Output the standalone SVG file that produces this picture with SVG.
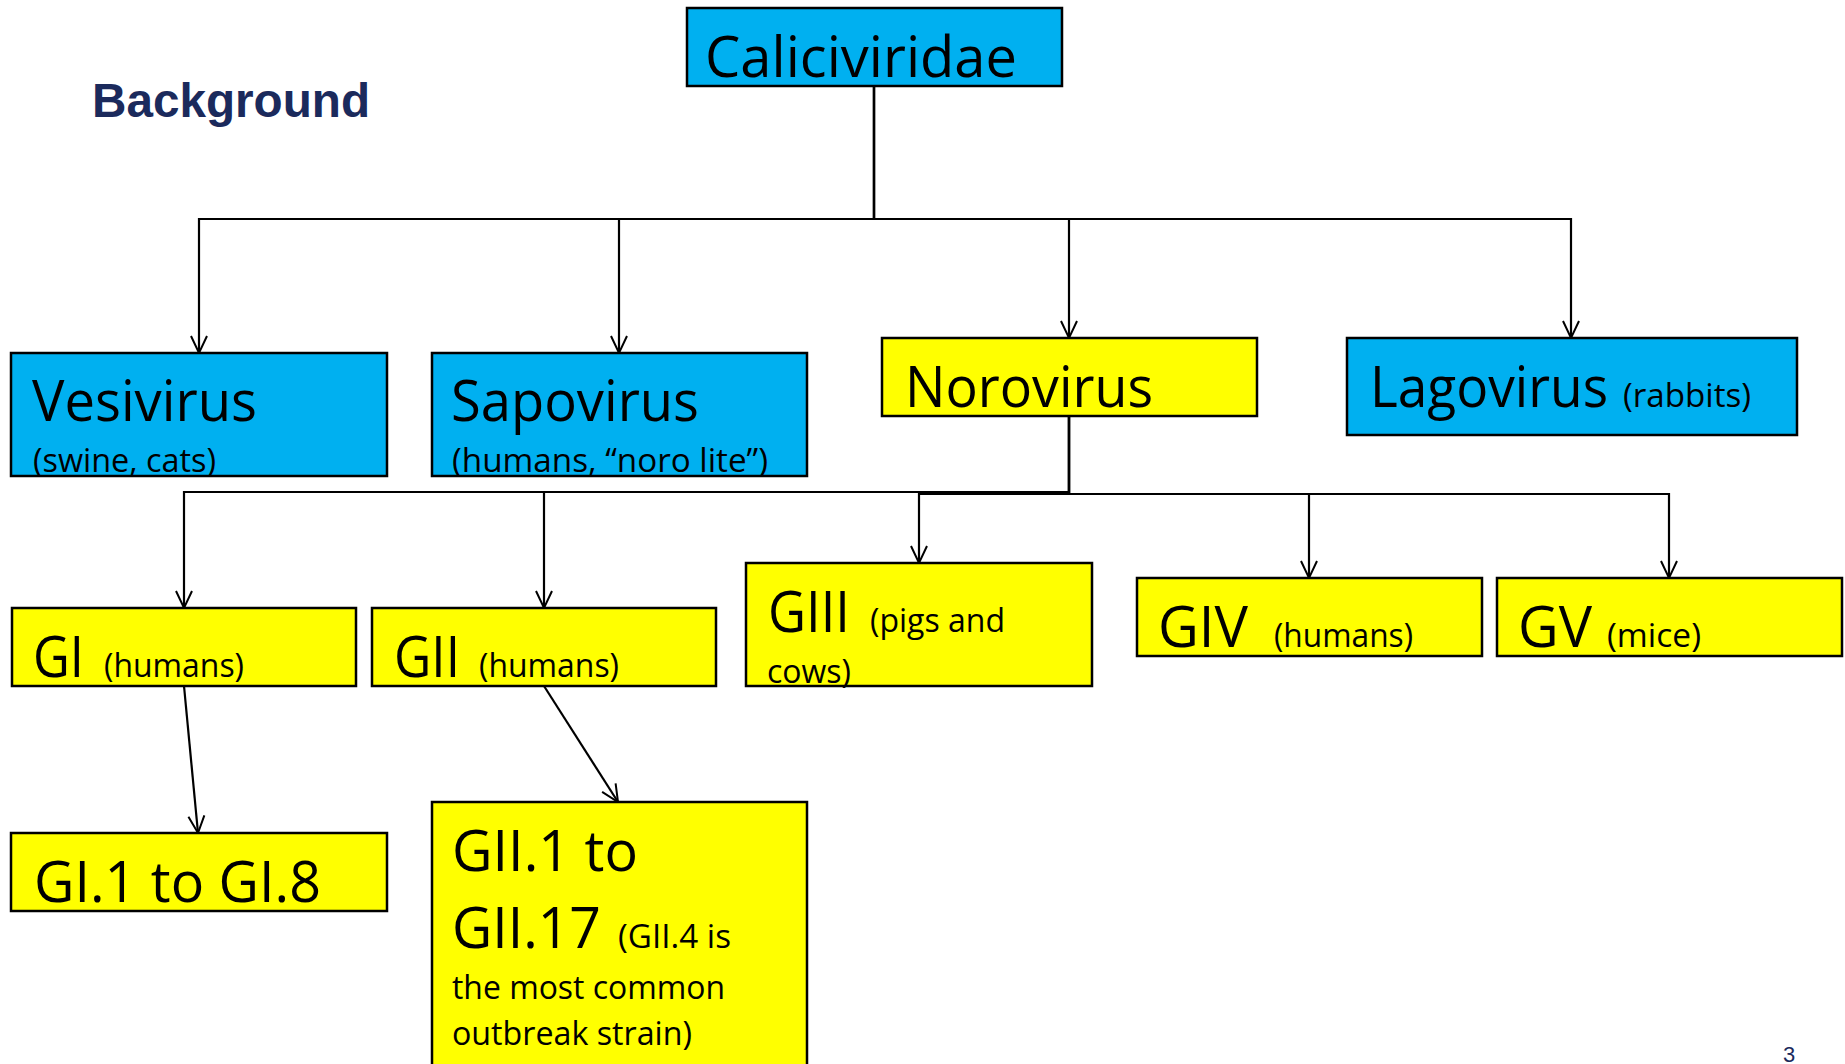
<svg xmlns="http://www.w3.org/2000/svg" width="1845" height="1064" viewBox="0 0 1845 1064">
<defs>
<style>
.box{stroke:#000;stroke-width:2.5}
.blue{fill:#00B0F0}
.yel{fill:#FFFF00}
.big{font-family:"Open Sans","Noto Sans","Liberation Sans",sans-serif;font-size:57px;fill:#000}
.sm{font-family:"Open Sans","Noto Sans","Liberation Sans",sans-serif;font-size:32px;fill:#000}
.conn{fill:none;stroke:#000;stroke-width:2.2}
.title{font-family:"Liberation Sans",Arial,sans-serif;font-weight:bold;font-size:48px;fill:#1B2A5C}
</style>
<marker id="arr" viewBox="-20 -12 24 24" refX="0" refY="0" markerWidth="24" markerHeight="24" orient="auto" markerUnits="userSpaceOnUse">
<path d="M-17,-8 L0,0 L-17,8" fill="none" stroke="#000" stroke-width="2"/>
</marker>
</defs>
<rect width="1845" height="1064" fill="#fff"/>
<text class="title" x="92" y="117" textLength="278" lengthAdjust="spacingAndGlyphs">Background</text>
<g id="connectors">
<path class="conn" d="M874,86 V219 H199 V353" marker-end="url(#arr)"/>
<path class="conn" d="M874,86 V219 H619 V353" marker-end="url(#arr)"/>
<path class="conn" d="M874,86 V219 H1069 V338" marker-end="url(#arr)"/>
<path class="conn" d="M874,86 V219 H1571 V338" marker-end="url(#arr)"/>
<path class="conn" d="M1069,416 V492 H184 V608" marker-end="url(#arr)"/>
<path class="conn" d="M1069,416 V492 H544 V608" marker-end="url(#arr)"/>
<path class="conn" d="M1069,416 V494 H919 V563" marker-end="url(#arr)"/>
<path class="conn" d="M1069,416 V494 H1309 V578" marker-end="url(#arr)"/>
<path class="conn" d="M1069,416 V494 H1669 V578" marker-end="url(#arr)"/>
<path class="conn" d="M184,686 L198,833" marker-end="url(#arr)"/>
<path class="conn" d="M544,686 L618,802" marker-end="url(#arr)"/>
</g>
<g id="caliciviridae">
<rect class="box blue" x="687" y="8" width="375" height="78"/>
<text class="big" x="705" y="77" textLength="312" lengthAdjust="spacingAndGlyphs">Caliciviridae</text>
</g>
<g id="vesivirus">
<rect class="box blue" x="11" y="353" width="376" height="123"/>
<text class="big" x="32" y="421" textLength="225" lengthAdjust="spacingAndGlyphs">Vesivirus</text>
<text class="sm" x="33" y="472" textLength="183" lengthAdjust="spacingAndGlyphs">(swine, cats)</text>
</g>
<g id="sapovirus">
<rect class="box blue" x="432" y="353" width="375" height="123"/>
<text class="big" x="451" y="421" textLength="248" lengthAdjust="spacingAndGlyphs">Sapovirus</text>
<text class="sm" x="452" y="472" textLength="316" lengthAdjust="spacingAndGlyphs">(humans, “noro lite”)</text>
</g>
<g id="norovirus">
<rect class="box yel" x="882" y="338" width="375" height="78"/>
<text class="big" x="905" y="407" textLength="248" lengthAdjust="spacingAndGlyphs">Norovirus</text>
</g>
<g id="lagovirus">
<rect class="box blue" x="1347" y="338" width="450" height="97"/>
<text class="big" x="1370" y="407" textLength="238" lengthAdjust="spacingAndGlyphs">Lagovirus</text>
<text class="sm" x="1623" y="407" textLength="128" lengthAdjust="spacingAndGlyphs">(rabbits)</text>
</g>
<g id="gi">
<rect class="box yel" x="12" y="608" width="344" height="78"/>
<text class="big" x="33" y="677" textLength="51" lengthAdjust="spacingAndGlyphs">GI</text>
<text class="sm" x="104" y="677" textLength="140" lengthAdjust="spacingAndGlyphs">(humans)</text>
</g>
<g id="gii">
<rect class="box yel" x="372" y="608" width="344" height="78"/>
<text class="big" x="394" y="677" textLength="66" lengthAdjust="spacingAndGlyphs">GII</text>
<text class="sm" x="479" y="677" textLength="140" lengthAdjust="spacingAndGlyphs">(humans)</text>
</g>
<g id="giii">
<rect class="box yel" x="746" y="563" width="346" height="123"/>
<text class="big" x="768" y="632" textLength="82" lengthAdjust="spacingAndGlyphs">GIII</text>
<text class="sm" x="870" y="632" textLength="135" lengthAdjust="spacingAndGlyphs">(pigs and</text>
<text class="sm" x="767" y="683" textLength="84" lengthAdjust="spacingAndGlyphs">cows)</text>
</g>
<g id="giv">
<rect class="box yel" x="1137" y="578" width="345" height="78"/>
<text class="big" x="1158" y="647" textLength="90" lengthAdjust="spacingAndGlyphs">GIV</text>
<text class="sm" x="1274" y="647" textLength="139" lengthAdjust="spacingAndGlyphs">(humans)</text>
</g>
<g id="gv">
<rect class="box yel" x="1497" y="578" width="345" height="78"/>
<text class="big" x="1518" y="647" textLength="74" lengthAdjust="spacingAndGlyphs">GV</text>
<text class="sm" x="1607" y="647" textLength="94" lengthAdjust="spacingAndGlyphs">(mice)</text>
</g>
<g id="gi-strains">
<rect class="box yel" x="11" y="833" width="376" height="78"/>
<text class="big" x="34" y="902" textLength="287" lengthAdjust="spacingAndGlyphs">GI.1 to GI.8</text>
</g>
<g id="gii-strains">
<rect class="box yel" x="432" y="802" width="375" height="280"/>
<text class="big" x="452" y="871" textLength="186" lengthAdjust="spacingAndGlyphs">GII.1 to</text>
<text class="big" x="452" y="948" textLength="149" lengthAdjust="spacingAndGlyphs">GII.17</text>
<text class="sm" x="618" y="948" textLength="113" lengthAdjust="spacingAndGlyphs">(GII.4 is</text>
<text class="sm" x="452" y="999" textLength="273" lengthAdjust="spacingAndGlyphs">the most common</text>
<text class="sm" x="452" y="1045" textLength="240" lengthAdjust="spacingAndGlyphs">outbreak strain)</text>
</g>
<text x="1783" y="1062" font-family="Liberation Sans,Arial,sans-serif" font-size="22" fill="#1B2A5C">3</text>
</svg>
